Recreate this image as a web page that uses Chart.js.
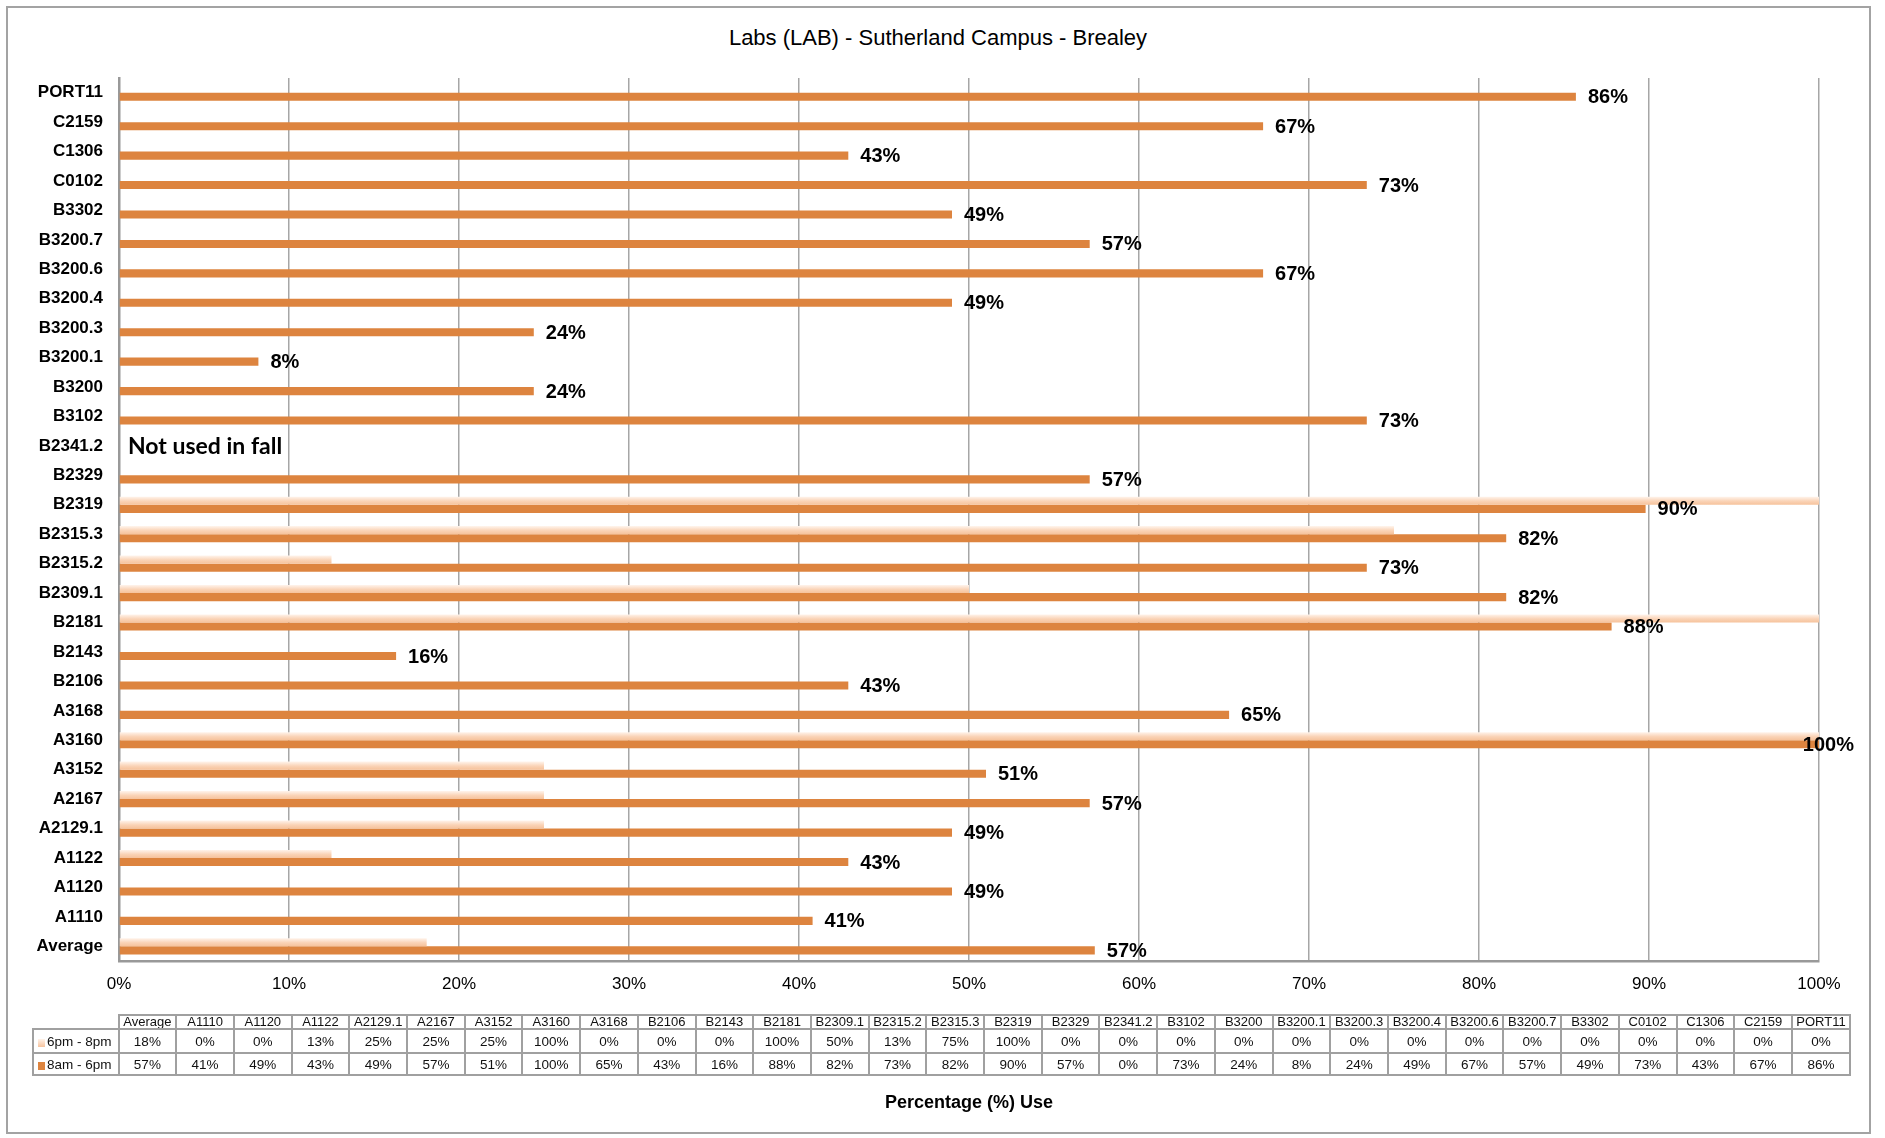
<!DOCTYPE html>
<html>
<head>
<meta charset="utf-8">
<script src="https://cdn.jsdelivr.net/npm/chart.js@4.4.1/dist/chart.umd.min.js"></script>
<style>
  body { margin: 0; background: #fff; }
  #wrap { position: relative; width: 1885px; height: 1138px; }
  #frame { position: absolute; left: 6px; top: 6px; width: 1861px; height: 1124px; border: 2px solid #a3a3a3; }
  #title { position: absolute; left: 0; width: 1876px; top: 25px; text-align: center;
           font: 22px "Liberation Sans", Arial, sans-serif; color: #000; }
  #chart { position: absolute; left: 0; top: 0; }
  #table { position: absolute; left: 32px; top: 1014px; width: 1819px; border-collapse: collapse; table-layout: fixed;
           font: 13.5px "Liberation Sans", Arial, sans-serif; color: #111; }
  #table td { border: 2px solid #a0a0a0; text-align: center; padding: 0; overflow: hidden; white-space: nowrap; }
  #table tr.head td { height: 12px; font-size: 13px; line-height: 12px; }
  #table tr.r1 td { height: 22px; }
  #table tr.r2 td { height: 20px; }
  #table td.blank { border-top: none; border-left: none; }
  #table td.key { text-align: left; padding-left: 4px; }
  .sw { display: inline-block; width: 7px; height: 8px; margin-right: 2px; vertical-align: -1px; }
</style>
</head>
<body>
<div id="wrap">
  <div id="frame"></div>
  <div id="title"></div>
  <canvas id="chart" width="1885" height="1138"></canvas>
  <table id="table"></table>
</div>
<script>
// --- DATA ---
const chartTitle = 'Labs (LAB) - Sutherland Campus - Brealey';
const axisTitle = 'Percentage (%) Use';
const rooms = ['Average', 'A1110', 'A1120', 'A1122', 'A2129.1', 'A2167', 'A3152', 'A3160', 'A3168', 'B2106',
  'B2143', 'B2181', 'B2309.1', 'B2315.2', 'B2315.3', 'B2319', 'B2329', 'B2341.2', 'B3102', 'B3200',
  'B3200.1', 'B3200.3', 'B3200.4', 'B3200.6', 'B3200.7', 'B3302', 'C0102', 'C1306', 'C2159', 'PORT11'];
const eveningUse = [18.1, 0, 0, 12.5, 25, 25, 25, 100, 0, 0,
  0, 100, 50, 12.5, 75, 100, 0, 0, 0, 0,
  0, 0, 0, 0, 0, 0, 0, 0, 0, 0];
const dayUse = [57.4, 40.8, 49.0, 42.9, 49.0, 57.1, 51.0, 100, 65.3, 42.9,
  16.3, 87.8, 81.6, 73.4, 81.6, 89.8, 57.1, 0, 73.4, 24.4,
  8.2, 24.4, 49.0, 67.3, 57.1, 49.0, 73.4, 42.9, 67.3, 85.7];
const seriesNames = ['6pm - 8pm', '8am - 6pm'];
const xTicks = [0, 10, 20, 30, 40, 50, 60, 70, 80, 90, 100];
const noteRoom = 'B2341.2';
const noteText = 'Not used in fall';

// --- STYLE ---
const DARK = '#DD843F';
const LIGHT = '#F8CBA8';
const GRID = '#A6A6A6';
const FONT = '"Liberation Sans", Arial, sans-serif';
const CAT_PCT = 0.55;

const pct = v => Math.round(v) + '%';

document.getElementById('title').textContent = chartTitle;

// --- DATA TABLE ---
function buildTable() {
  const table = document.getElementById('table');
  let html = '<colgroup><col style="width:83px">' + rooms.map(() => '<col style="width:56px">').join('') + '</colgroup>';
  html += '<tr class="head"><td class="blank"></td>' + rooms.map(r => `<td>${r}</td>`).join('') + '</tr>';
  const rows = [[eveningUse, 'r1', 'linear-gradient(#fff3ea,#f6c39e)'], [dayUse, 'r2', DARK]];
  rows.forEach(([vals, cls, sw], i) => {
    html += `<tr class="${cls}"><td class="key"><span class="sw" style="background:${sw}"></span>${seriesNames[i]}</td>`;
    html += vals.map(v => `<td>${pct(v)}</td>`).join('') + '</tr>';
  });
  table.innerHTML = html;
}
buildTable();

// light bars get a vertical gradient across their own thickness
function lightFill(c) {
  const chart = c.chart;
  if (!chart.chartArea) return LIGHT;
  const y = chart.scales.y;
  const thick = (y.bottom - y.top) / rooms.length * CAT_PCT / 2;
  const mid = y.getPixelForValue(c.dataIndex);
  const g = chart.ctx.createLinearGradient(0, mid - thick, 0, mid);
  g.addColorStop(0, '#FFF4EC');
  g.addColorStop(0.55, '#FAD3B6');
  g.addColorStop(1, '#F6C29B');
  return g;
}

// value labels after the daytime bars + the note for the unused lab
const barLabels = {
  id: 'barLabels',
  afterDatasetsDraw(chart) {
    const ctx = chart.ctx;
    const meta = chart.getDatasetMeta(1);
    ctx.save();
    ctx.fillStyle = '#000';
    ctx.textBaseline = 'middle';
    ctx.textAlign = 'left';
    ctx.font = 'bold 20px ' + FONT;
    meta.data.forEach((bar, i) => {
      const v = dayUse[i];
      if (!v) return;
      const txt = pct(v);
      const w = ctx.measureText(txt).width;
      const x = Math.min(bar.x + 12, 1854 - w);
      ctx.fillText(txt, x, bar.y + 1);
    });
    const idx = rooms.indexOf(noteRoom);
    ctx.font = 'bold 23px Lato, "Open Sans", sans-serif';
    ctx.fillText(noteText, chart.chartArea.left + 9, chart.scales.y.getPixelForValue(idx) + 1);
    ctx.restore();
  }
};

new Chart(document.getElementById('chart'), {
  type: 'bar',
  data: {
    labels: rooms,
    datasets: [
      { label: seriesNames[0], data: eveningUse, backgroundColor: lightFill },
      { label: seriesNames[1], data: dayUse, backgroundColor: DARK }
    ]
  },
  options: {
    indexAxis: 'y',
    responsive: false,
    devicePixelRatio: 1,
    animation: false,
    datasets: { bar: { categoryPercentage: CAT_PCT, barPercentage: 1.0 } },
    layout: { padding: { left: 0, right: 66, top: 78, bottom: 0 } },
    plugins: {
      legend: { display: false },
      tooltip: { enabled: false },
      title: { display: false }
    },
    scales: {
      x: {
        min: 0,
        max: 100,
        afterBuildTicks: s => { s.ticks = xTicks.map(v => ({ value: v })); },
        afterFit: s => { s.height = 177; },
        ticks: { callback: v => v + '%', color: '#000', font: { family: FONT, size: 17 }, padding: 13, maxRotation: 0 },
        grid: { color: GRID, lineWidth: 1.5, drawTicks: false },
        border: { color: '#999', width: 2.5 },
        title: { display: true, text: axisTitle, color: '#000', font: { family: FONT, size: 18, weight: 'bold' }, padding: { top: 0, bottom: 24 } }
      },
      y: {
        reverse: true,
        afterFit: s => { s.width = 119; },
        ticks: { color: '#000', font: { family: FONT, size: 17, weight: 'bold' }, padding: 16, autoSkip: false },
        grid: { display: false, drawTicks: false },
        border: { color: '#999', width: 2.5 }
      }
    }
  },
  plugins: [barLabels]
});
</script>
</body>
</html>
